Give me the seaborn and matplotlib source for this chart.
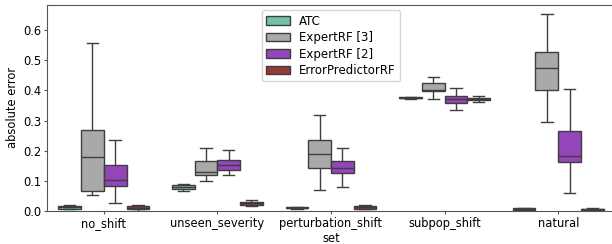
import numpy as np
import pandas as pd
import seaborn as sns
import matplotlib.pyplot as plt

sets = ["no_shift", "unseen_severity", "perturbation_shift", "subpop_shift", "natural"]
methods = ["ATC", "ExpertRF [3]", "ExpertRF [2]", "ErrorPredictorRF"]

# five-number summary per set: [min, q1, median, q3, max]
atc = [
    [0.005, 0.008, 0.012, 0.018, 0.021],
    [0.066, 0.073, 0.080, 0.087, 0.091],
    [0.007, 0.009, 0.011, 0.013, 0.014],
    [0.372, 0.374, 0.376, 0.378, 0.379],
    [0.002, 0.004, 0.006, 0.009, 0.010],
]
expert_rf3 = [
    [0.052, 0.065, 0.180, 0.268, 0.558],
    [0.101, 0.121, 0.130, 0.167, 0.208],
    [0.071, 0.144, 0.189, 0.234, 0.319],
    [0.371, 0.398, 0.403, 0.426, 0.445],
    [0.295, 0.400, 0.476, 0.527, 0.653],
]
expert_rf2 = [
    [0.027, 0.082, 0.102, 0.154, 0.236],
    [0.120, 0.135, 0.152, 0.168, 0.203],
    [0.078, 0.126, 0.143, 0.165, 0.209],
    [0.334, 0.357, 0.372, 0.381, 0.408],
    [0.059, 0.162, 0.184, 0.265, 0.406],
]
error_predictor_rf = [
    [0.000, 0.006, 0.010, 0.016, 0.020],
    [0.017, 0.021, 0.025, 0.030, 0.036],
    [0.005, 0.007, 0.012, 0.017, 0.019],
    [0.361, 0.367, 0.371, 0.375, 0.382],
    [0.002, 0.004, 0.006, 0.008, 0.009],
]

rows = []
for name, vals in zip(methods, [atc, expert_rf3, expert_rf2, error_predictor_rf]):
    for s, summary in zip(sets, vals):
        for v in summary:
            rows.append({"set": s, "method": name, "absolute error": v})
df = pd.DataFrame(rows)

palette = ["mediumaquamarine", "darkgray", "darkorchid", "brown"]

plt.rcParams["font.size"] = 8.3
fig = plt.figure(figsize=(6.12, 2.44), dpi=100)
ax = fig.add_axes([47 / 612, 33 / 244, 568 / 612, 206.5 / 244])

sns.boxplot(data=df, x="set", y="absolute error", hue="method", order=sets,
            hue_order=methods, palette=palette, whis=(0, 100), showfliers=False,
            ax=ax)

ax.set_ylim(0, 0.685)
ax.set_yticks([0.0, 0.1, 0.2, 0.3, 0.4, 0.5, 0.6])
for sp in ax.spines.values():
    sp.set_color("#555555")
ax.tick_params(color="#555555", length=2.2, pad=1.8)
ax.xaxis.labelpad = 1.5
ax.yaxis.labelpad = 3
ax.legend(loc="upper center", fontsize=8.5, labelspacing=0.3, borderpad=0.35)

plt.savefig("out.png", dpi=100)
